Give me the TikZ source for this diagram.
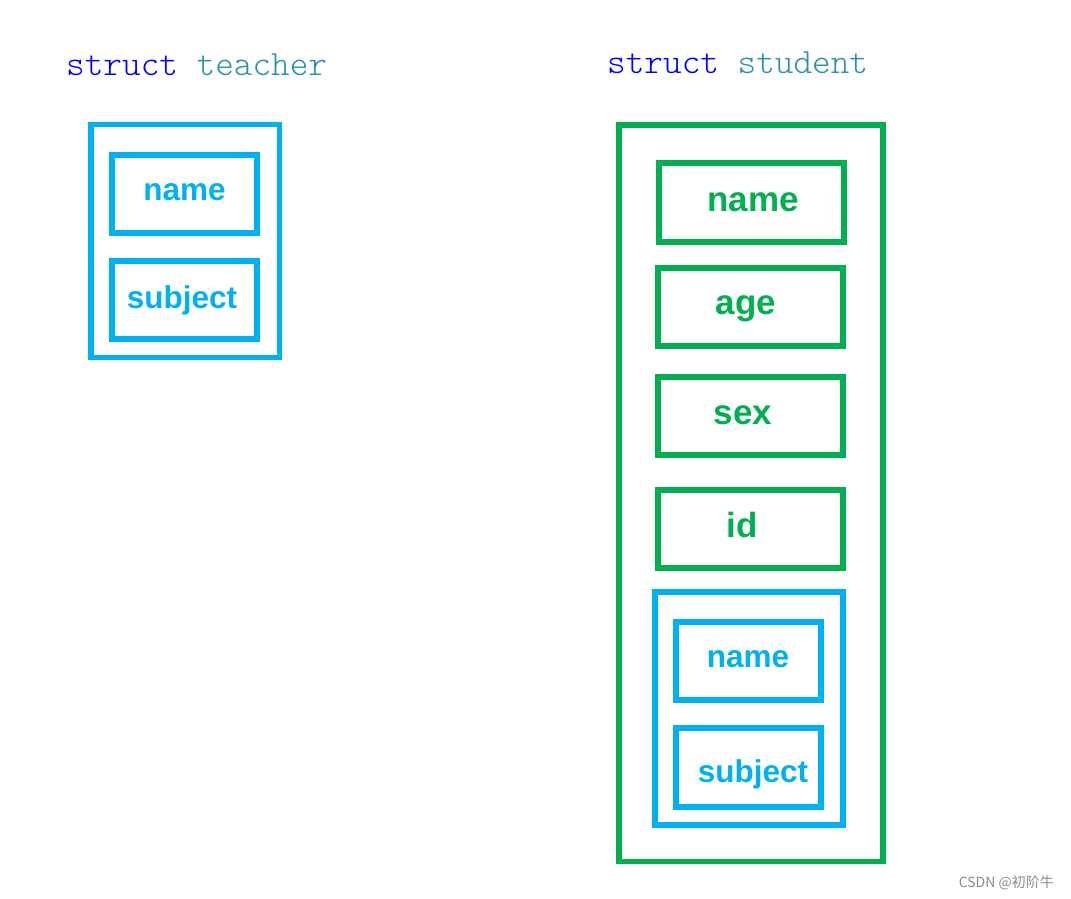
\documentclass[tikz,border=0pt]{standalone}
\usepackage{fontspec}
\setmainfont{Liberation Sans}
\newfontfamily\cjkfont{Noto Sans CJK SC}
\newfontfamily\titlefont{Latin Modern Mono Light}
\definecolor{fgreen}{HTML}{00B050}
\definecolor{fblue}{HTML}{00B0F0}
\definecolor{kwblue}{HTML}{0000FF}
\definecolor{typeteal}{HTML}{2B91AF}
\begin{document}
\begin{tikzpicture}[x=1pt,y=-1pt,
  box/.style={draw=#1, line width=5.5pt, inner sep=0pt, outer sep=0pt},
  lbl/.style={text=#1, font=\fontsize{31.5}{31.5}\selectfont\bfseries, anchor=base, inner sep=0pt},
  glbl/.style={text=fgreen, font=\fontsize{35}{35}\selectfont\bfseries, anchor=base, inner sep=0pt},
  title/.style={font=\titlefont\fontsize{35.5}{35.5}\selectfont, anchor=base west, inner sep=0pt}]
\useasboundingbox (0,0) rectangle (1071,898);
% titles
\node[title] (tteacher) at (66,75) {\textcolor{kwblue}{struct} \textcolor{typeteal}{teacher}};
\node[title] (tstudent) at (607,73) {\textcolor{kwblue}{struct} \textcolor{typeteal}{student}};
% teacher
\node[box=fblue, minimum width=188.5pt, minimum height=233pt] (teacher) at (185,241) {};
\node[box=fblue, minimum width=145pt, minimum height=78pt] (tname) at (184.5,194) {};
\node[box=fblue, minimum width=145pt, minimum height=78pt] (tsubject) at (184.5,300) {};
\node[lbl=fblue] (tnamet) at (184.5,200) {name};
\node[lbl=fblue] (tsubjectt) at (182,308) {subject};
% student
\node[box=fgreen, minimum width=264pt, minimum height=736.5pt] (student) at (751,493.25) {};
\node[box=fgreen, minimum width=185pt, minimum height=79pt] (sname) at (751.5,202.5) {};
\node[box=fgreen, minimum width=185pt, minimum height=78pt] (sage) at (750.5,307) {};
\node[box=fgreen, minimum width=185pt, minimum height=78pt] (ssex) at (750.5,416) {};
\node[box=fgreen, minimum width=185pt, minimum height=78pt] (sid) at (750.5,529) {};
\node[glbl] (snamet) at (753,211) {name};
\node[glbl] (saget) at (746,314) {age};
\node[glbl] (ssext) at (743,424) {sex};
\node[glbl] (sidt) at (742,537) {id};
% nested teacher
\node[box=fblue, minimum width=188pt, minimum height=233pt] (steacher) at (749,708.5) {};
\node[box=fblue, minimum width=145pt, minimum height=78pt] (stname) at (748.5,661) {};
\node[box=fblue, minimum width=145pt, minimum height=79pt] (stsubject) at (748.5,767.5) {};
\node[lbl=fblue] (stnamet) at (748,667) {name};
\node[lbl=fblue] (stsubjectt) at (753,782) {subject};
% watermark
\node[anchor=base east, inner sep=0pt, text=black!45, font=\cjkfont\fontsize{14}{14}\selectfont] (wm) at (1054,887) {CSDN @初阶牛};
\end{tikzpicture}
\end{document}
